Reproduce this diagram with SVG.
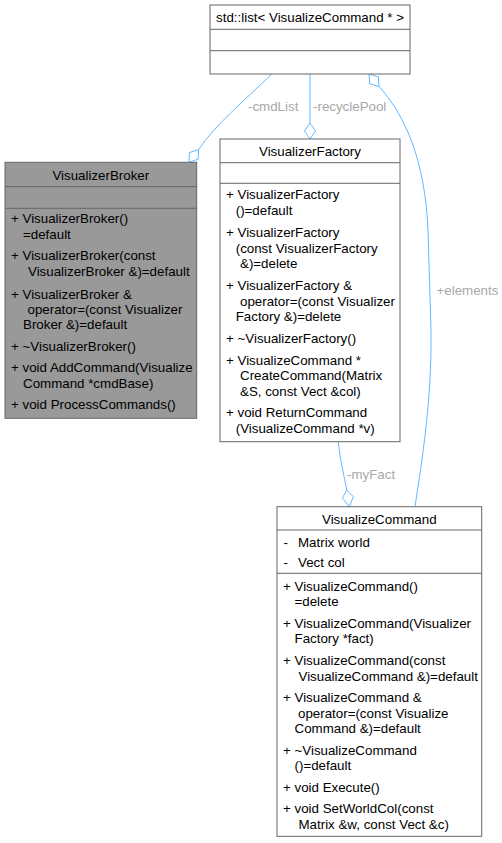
<svg xmlns="http://www.w3.org/2000/svg" width="502" height="843" viewBox="0 0 502 843">
<style>
text{font-family:"Liberation Sans",Arial,sans-serif;font-size:13.33px;fill:#000}
.t{text-anchor:middle}
.lbl{fill:#a8a8a8}
.box{fill:#fff;stroke:#666;stroke-width:1}
.hl{fill:#999;stroke:#666;stroke-width:1}
.sep{stroke:#666;stroke-width:1;fill:none}
.edge{fill:none;stroke:#63b8ff;stroke-width:1}
.dia{fill:#fff;stroke:#63b8ff;stroke-width:1}
</style>
<rect width="502" height="843" fill="#fff"/>
<g id="connectors">
<path class="edge" d="M271.7,74 C245,100 215,125 198.6,149.5"/>
<polygon class="dia" points="198.6,149.5 198.2,159.2 189,162.3 189.4,152.6"/>
<text class="lbl" x="248" y="111">-cmdList</text>
<path class="edge" d="M310,74 L310,123"/>
<polygon class="dia" points="310,123 315.5,131 310,139 304.5,131"/>
<text class="lbl" x="313" y="111">-recyclePool</text>
<path class="edge" d="M379,86.5 C405,115 425,160 428,230 L431,330 C432,400 422,460 415,506.7"/>
<polygon class="dia" points="369,74 378.3,76.8 379,86.5 369.7,83.7"/>
<text class="lbl" x="436.5" y="295">+elements</text>
<path class="edge" d="M338.3,441.7 C340,460 344,475 346.7,490"/>
<polygon class="dia" points="346.7,490 353.3,496.7 349.5,506.5 342.3,498.3"/>
<text class="lbl" x="347" y="479">-myFact</text>
</g>
<g id="node-list">
<rect class="box" x="210" y="5" width="200" height="69"/>
<path class="sep" d="M210,29.3 H410 M210,50.7 H410"/>
<text class="t" x="310" y="22.3">std::list&lt; VisualizeCommand * &gt;</text>
</g>
<g id="node-VisualizerBroker">
<rect class="hl" x="5" y="162.3" width="191.7" height="256"/>
<path class="sep" d="M5,186.7 H196.7 M5,208.3 H196.7"/>
<text class="t" x="100.8" y="179.5">VisualizerBroker</text>
<text x="11" y="223">+ VisualizerBroker()</text>
<text x="23" y="238.5">=default</text>
<text x="11" y="260">+ VisualizerBroker(const</text>
<text x="28" y="275.5">VisualizerBroker &amp;)=default</text>
<text x="11" y="298.5">+ VisualizerBroker &amp;</text>
<text x="27.5" y="314">operator=(const Visualizer</text>
<text x="23" y="329">Broker &amp;)=default</text>
<text x="11" y="351">+ ~VisualizerBroker()</text>
<text x="11" y="372">+ void AddCommand(Visualize</text>
<text x="23" y="387.5">Command *cmdBase)</text>
<text x="11" y="409">+ void ProcessCommands()</text>
</g>
<g id="node-VisualizerFactory">
<rect class="box" x="220" y="139" width="180" height="302.7"/>
<path class="sep" d="M220,162.7 H400 M220,183.3 H400"/>
<text class="t" x="310" y="156">VisualizerFactory</text>
<text x="226" y="199">+ VisualizerFactory</text>
<text x="235.7" y="215">()=default</text>
<text x="226" y="236.5">+ VisualizerFactory</text>
<text x="235.7" y="252.5">(const VisualizerFactory</text>
<text x="240" y="268">&amp;)=delete</text>
<text x="226" y="290">+ VisualizerFactory &amp;</text>
<text x="240" y="306">operator=(const Visualizer</text>
<text x="235.7" y="321">Factory &amp;)=delete</text>
<text x="226" y="343">+ ~VisualizerFactory()</text>
<text x="226" y="364.5">+ VisualizeCommand *</text>
<text x="240" y="380">CreateCommand(Matrix</text>
<text x="240" y="395.5">&amp;S, const Vect &amp;col)</text>
<text x="226" y="417">+ void ReturnCommand</text>
<text x="235.7" y="432.5">(VisualizeCommand *v)</text>
</g>
<g id="node-VisualizeCommand">
<rect class="box" x="277" y="506.7" width="204.7" height="329.6"/>
<path class="sep" d="M277,530 H481.7 M277,573.3 H481.7"/>
<text class="t" x="379.3" y="523.5">VisualizeCommand</text>
<text y="546.5"><tspan x="283.5">-</tspan><tspan x="298">Matrix world</tspan></text>
<text y="567"><tspan x="283.5">-</tspan><tspan x="298">Vect col</tspan></text>
<text x="283" y="590.5">+ VisualizeCommand()</text>
<text x="294.5" y="606">=delete</text>
<text x="283" y="627.5">+ VisualizeCommand(Visualizer</text>
<text x="294.5" y="643">Factory *fact)</text>
<text x="283" y="664.5">+ VisualizeCommand(const</text>
<text x="298.5" y="680.5">VisualizeCommand &amp;)=default</text>
<text x="283" y="702">+ VisualizeCommand &amp;</text>
<text x="298" y="718">operator=(const Visualize</text>
<text x="294.5" y="733">Command &amp;)=default</text>
<text x="283" y="754.5">+ ~VisualizeCommand</text>
<text x="294.5" y="770">()=default</text>
<text x="283" y="792">+ void Execute()</text>
<text x="283" y="813">+ void SetWorldCol(const</text>
<text x="298.5" y="828.5">Matrix &amp;w, const Vect &amp;c)</text>
</g>
</svg>
